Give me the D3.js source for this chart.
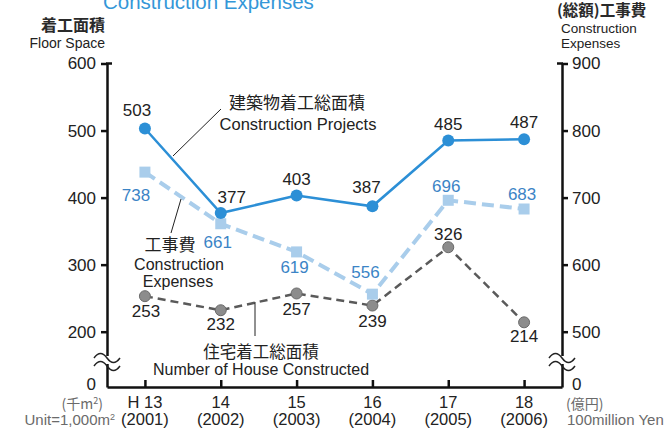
<!DOCTYPE html>
<meta charset="utf-8">
<script src="https://d3js.org/d3.v7.min.js"></script>
<style>
  body { margin: 0; background: #fff; }
  text { font-family: "Liberation Sans", Arial, sans-serif; }
  .jp { font-family: "Noto Sans CJK JP", sans-serif; }
</style>
<div id="my_dataviz"></div>
<script>

// data
var years = ["H13", "14", "15", "16", "17", "18"];
var yearsAD = ["(2001)", "(2002)", "(2003)", "(2004)", "(2005)", "(2006)"];
var projects = [503, 377, 403, 387, 485, 487];   // left axis, 1,000 m2
var expenses = [738, 661, 619, 556, 696, 683];   // right axis, 100 million yen
var houses = [253, 232, 257, 239, 326, 214];     // left axis, 1,000 m2
var leftTicks = [0, 200, 300, 400, 500, 600];
var rightTicks = [0, 500, 600, 700, 800, 900];

var W = 669, H = 428;
var svg = d3.select("#my_dataviz").append("svg")
    .attr("width", W).attr("height", H);

// scales (broken axes: the part between 0 and 200 / 500 is squeezed)
var x = d3.scalePoint().domain(years).range([107, 562]).padding(0.5);
var yL = d3.scaleLinear().domain([0, 200, 600]).range([387, 331.7, 63.5]);
var yR = d3.scaleLinear().domain([0, 500, 900]).range([387, 331.7, 63.5]);

var blue = "#2c8fd6", lightBlue = "#a9cdeb", expLabel = "#3b84c6", grey = "#5a5a5a";

// title, partly cut off at top
svg.append("text").attr("x", 103).attr("y", 9)
  .attr("font-size", "20.5px").attr("fill", "#3497d8")
  .text("Construction Expenses");

// axis titles
svg.append("text").attr("class", "jp").attr("x", 105).attr("y", 31)
  .attr("text-anchor", "end").attr("font-size", "16px").attr("font-weight", "bold").attr("fill", "#2a2a2a")
  .text("着工面積");
svg.append("text").attr("x", 105).attr("y", 48)
  .attr("text-anchor", "end").attr("font-size", "14px").attr("fill", "#222")
  .text("Floor Space");
svg.append("text").attr("class", "jp").attr("x", 557).attr("y", 16)
  .attr("font-size", "15.5px").attr("font-weight", "bold").attr("fill", "#2a2a2a")
  .text("(総額)工事費");
svg.append("text").attr("x", 561).attr("y", 33)
  .attr("font-size", "13.5px").attr("fill", "#222")
  .text("Construction");
svg.append("text").attr("x", 561).attr("y", 47.5)
  .attr("font-size", "13.5px").attr("fill", "#222")
  .text("Expenses");

// left axis
var leftAxis = svg.append("g")
  .attr("transform", "translate(107,0)")
  .call(d3.axisLeft(yL).tickValues(leftTicks).tickSize(6).tickSizeOuter(0).tickPadding(5));
// right axis
var rightAxis = svg.append("g")
  .attr("transform", "translate(562,0)")
  .call(d3.axisRight(yR).tickValues(rightTicks).tickSize(6).tickSizeOuter(0).tickPadding(4));

[leftAxis, rightAxis].forEach(function(a) {
  a.select(".domain").attr("stroke", "#111").attr("stroke-width", 2.5);
  a.selectAll(".tick line").attr("stroke", "#111").attr("stroke-width", 2.5);
  a.selectAll(".tick text").attr("font-size", "17px").attr("fill", "#222")
    .attr("font-family", "Liberation Sans, Arial, sans-serif");
  // no tick marks at zero (it sits on the x axis)
  a.selectAll(".tick").filter(function(d) { return d === 0; }).select("line").remove();
  a.selectAll(".tick").filter(function(d) { return d === 0; }).select("text").attr("dy", "0.15em");
});
// small caps at the top ends
svg.append("line").attr("x1", 106).attr("x2", 112).attr("y1", 63.5).attr("y2", 63.5)
  .attr("stroke", "#111").attr("stroke-width", 2.5);
svg.append("line").attr("x1", 557).attr("x2", 563).attr("y1", 63.5).attr("y2", 63.5)
  .attr("stroke", "#111").attr("stroke-width", 2.5);

// x axis, ticks pointing up
var xAxis = svg.append("g")
  .attr("transform", "translate(0,387)")
  .call(d3.axisTop(x).tickSize(7).tickSizeOuter(0).tickFormat(""));
xAxis.select(".domain").attr("stroke", "#111").attr("stroke-width", 2.5);
xAxis.selectAll(".tick line").attr("stroke", "#111").attr("stroke-width", 2.5);

// x labels
svg.selectAll(".yr").data(years).enter().append("text")
  .attr("class", "yr")
  .attr("x", function(d) { return x(d); })
  .attr("y", 408)
  .attr("text-anchor", "middle").attr("font-size", "16.5px").attr("fill", "#222")
  .text(function(d) { return d.replace("H", "H "); });
svg.selectAll(".ad").data(years).enter().append("text")
  .attr("class", "ad")
  .attr("x", function(d) { return x(d); })
  .attr("y", 425)
  .attr("text-anchor", "middle").attr("font-size", "16.5px").attr("fill", "#222")
  .text(function(d, i) { return yearsAD[i]; });

// units
svg.append("text").attr("class", "jp").attr("x", 103).attr("y", 409)
  .attr("text-anchor", "end").attr("font-size", "14px").attr("fill", "#6a6a6a")
  .html("(千m<tspan dy='-5' font-size='9px'>2</tspan><tspan dy='5'>)</tspan>");
svg.append("text").attr("x", 115).attr("y", 425)
  .attr("text-anchor", "end").attr("font-size", "15px").attr("fill", "#6a6a6a")
  .html("Unit=1,000m<tspan dy='-5' font-size='9px'>2</tspan>");
svg.append("text").attr("class", "jp").attr("x", 566).attr("y", 409)
  .attr("font-size", "14px").attr("fill", "#6a6a6a")
  .text("(億円)");
svg.append("text").attr("x", 567).attr("y", 425)
  .attr("font-size", "15px").attr("fill", "#6a6a6a")
  .text("100million Yen");

// axis break marks
function breakMark(cx, cy) {
  svg.append("rect").attr("x", cx - 4).attr("y", cy - 4).attr("width", 8).attr("height", 8).attr("fill", "#fff");
  [-4, 4].forEach(function(o) {
    svg.append("path")
      .attr("d", "M" + (cx - 13) + "," + (cy + o + 2) + " q6.5,-9 13,0 t13,0")
      .attr("fill", "none").attr("stroke", "#222").attr("stroke-width", 1.5);
  });
}
breakMark(107, 360);
breakMark(562, 360);

// house line (dark dashed)
var lineL = d3.line().x(function(d, i) { return x(years[i]); }).y(function(d) { return yL(d); });
var lineR = d3.line().x(function(d, i) { return x(years[i]); }).y(function(d) { return yR(d); });

svg.append("path").datum(houses).attr("d", lineL)
  .attr("fill", "none").attr("stroke", grey).attr("stroke-width", 2.5).attr("stroke-dasharray", "8,5");
svg.selectAll(".hdot").data(houses).enter().append("circle")
  .attr("class", "hdot")
  .attr("cx", function(d, i) { return x(years[i]); })
  .attr("cy", function(d) { return yL(d); })
  .attr("r", 5.5).attr("fill", "#8c8c8c").attr("stroke", "#6a6a6a").attr("stroke-width", 1);

// expenses line (light blue dashed, squares)
svg.append("path").datum(expenses).attr("d", lineR)
  .attr("fill", "none").attr("stroke", lightBlue).attr("stroke-width", 4).attr("stroke-dasharray", "12,6");
svg.selectAll(".esq").data(expenses).enter().append("rect")
  .attr("class", "esq")
  .attr("x", function(d, i) { return x(years[i]) - 5.5; })
  .attr("y", function(d) { return yR(d) - 5.5; })
  .attr("width", 11).attr("height", 11).attr("fill", lightBlue);

// construction projects line (solid blue)
svg.append("path").datum(projects).attr("d", lineL)
  .attr("fill", "none").attr("stroke", blue).attr("stroke-width", 2.5);
svg.selectAll(".pdot").data(projects).enter().append("circle")
  .attr("class", "pdot")
  .attr("cx", function(d, i) { return x(years[i]); })
  .attr("cy", function(d) { return yL(d); })
  .attr("r", 6).attr("fill", blue);

// value labels (offsets in px from the marker)
var pOff = [[-8, -18], [11, -16], [0, -17], [-6, -19], [0, -17], [0, -17]];
var eOff = [[-9, 23], [-3, 18], [-2, 15], [-7, -22], [-2, -14], [-2, -15]];
var hOff = [[1, 15], [0, 14], [0, 16], [0, 15], [0, -13], [0, 14]];

svg.selectAll(".plab").data(projects).enter().append("text")
  .attr("class", "plab")
  .attr("x", function(d, i) { return x(years[i]) + pOff[i][0]; })
  .attr("y", function(d, i) { return yL(d) + pOff[i][1]; })
  .attr("dy", "0.35em").attr("text-anchor", "middle").attr("font-size", "17px").attr("fill", "#222")
  .text(function(d) { return d; });
svg.selectAll(".elab").data(expenses).enter().append("text")
  .attr("class", "elab")
  .attr("x", function(d, i) { return x(years[i]) + eOff[i][0]; })
  .attr("y", function(d, i) { return yR(d) + eOff[i][1]; })
  .attr("dy", "0.35em").attr("text-anchor", "middle").attr("font-size", "17px").attr("fill", expLabel)
  .text(function(d) { return d; });
svg.selectAll(".hlab").data(houses).enter().append("text")
  .attr("class", "hlab")
  .attr("x", function(d, i) { return x(years[i]) + hOff[i][0]; })
  .attr("y", function(d, i) { return yL(d) + hOff[i][1]; })
  .attr("dy", "0.35em").attr("text-anchor", "middle").attr("font-size", "17px").attr("fill", "#222")
  .text(function(d) { return d; });

// series annotations with leader lines
svg.append("line").attr("x1", 173).attr("y1", 156).attr("x2", 221).attr("y2", 109)
  .attr("stroke", "#222").attr("stroke-width", 1);
svg.append("text").attr("class", "jp").attr("x", 297).attr("y", 109)
  .attr("text-anchor", "middle").attr("font-size", "17px").attr("fill", "#222")
  .text("建築物着工総面積");
svg.append("text").attr("x", 298).attr("y", 130)
  .attr("text-anchor", "middle").attr("font-size", "16.5px").attr("fill", "#222")
  .text("Construction Projects");

svg.append("line").attr("x1", 181).attr("y1", 199).attr("x2", 171).attr("y2", 233)
  .attr("stroke", "#222").attr("stroke-width", 1);
svg.append("text").attr("class", "jp").attr("x", 170).attr("y", 251)
  .attr("text-anchor", "middle").attr("font-size", "17px").attr("fill", "#222")
  .text("工事費");
svg.append("text").attr("x", 179).attr("y", 270)
  .attr("text-anchor", "middle").attr("font-size", "16px").attr("fill", "#222")
  .text("Construction");
svg.append("text").attr("x", 178).attr("y", 287)
  .attr("text-anchor", "middle").attr("font-size", "16px").attr("fill", "#222")
  .text("Expenses");

svg.append("line").attr("x1", 255).attr("y1", 302).attr("x2", 255).attr("y2", 336)
  .attr("stroke", "#222").attr("stroke-width", 1);
svg.append("text").attr("class", "jp").attr("x", 261).attr("y", 358)
  .attr("text-anchor", "middle").attr("font-size", "16.5px").attr("fill", "#222")
  .text("住宅着工総面積");
svg.append("text").attr("x", 261).attr("y", 375)
  .attr("text-anchor", "middle").attr("font-size", "16px").attr("fill", "#222")
  .text("Number of House Constructed");

</script>
